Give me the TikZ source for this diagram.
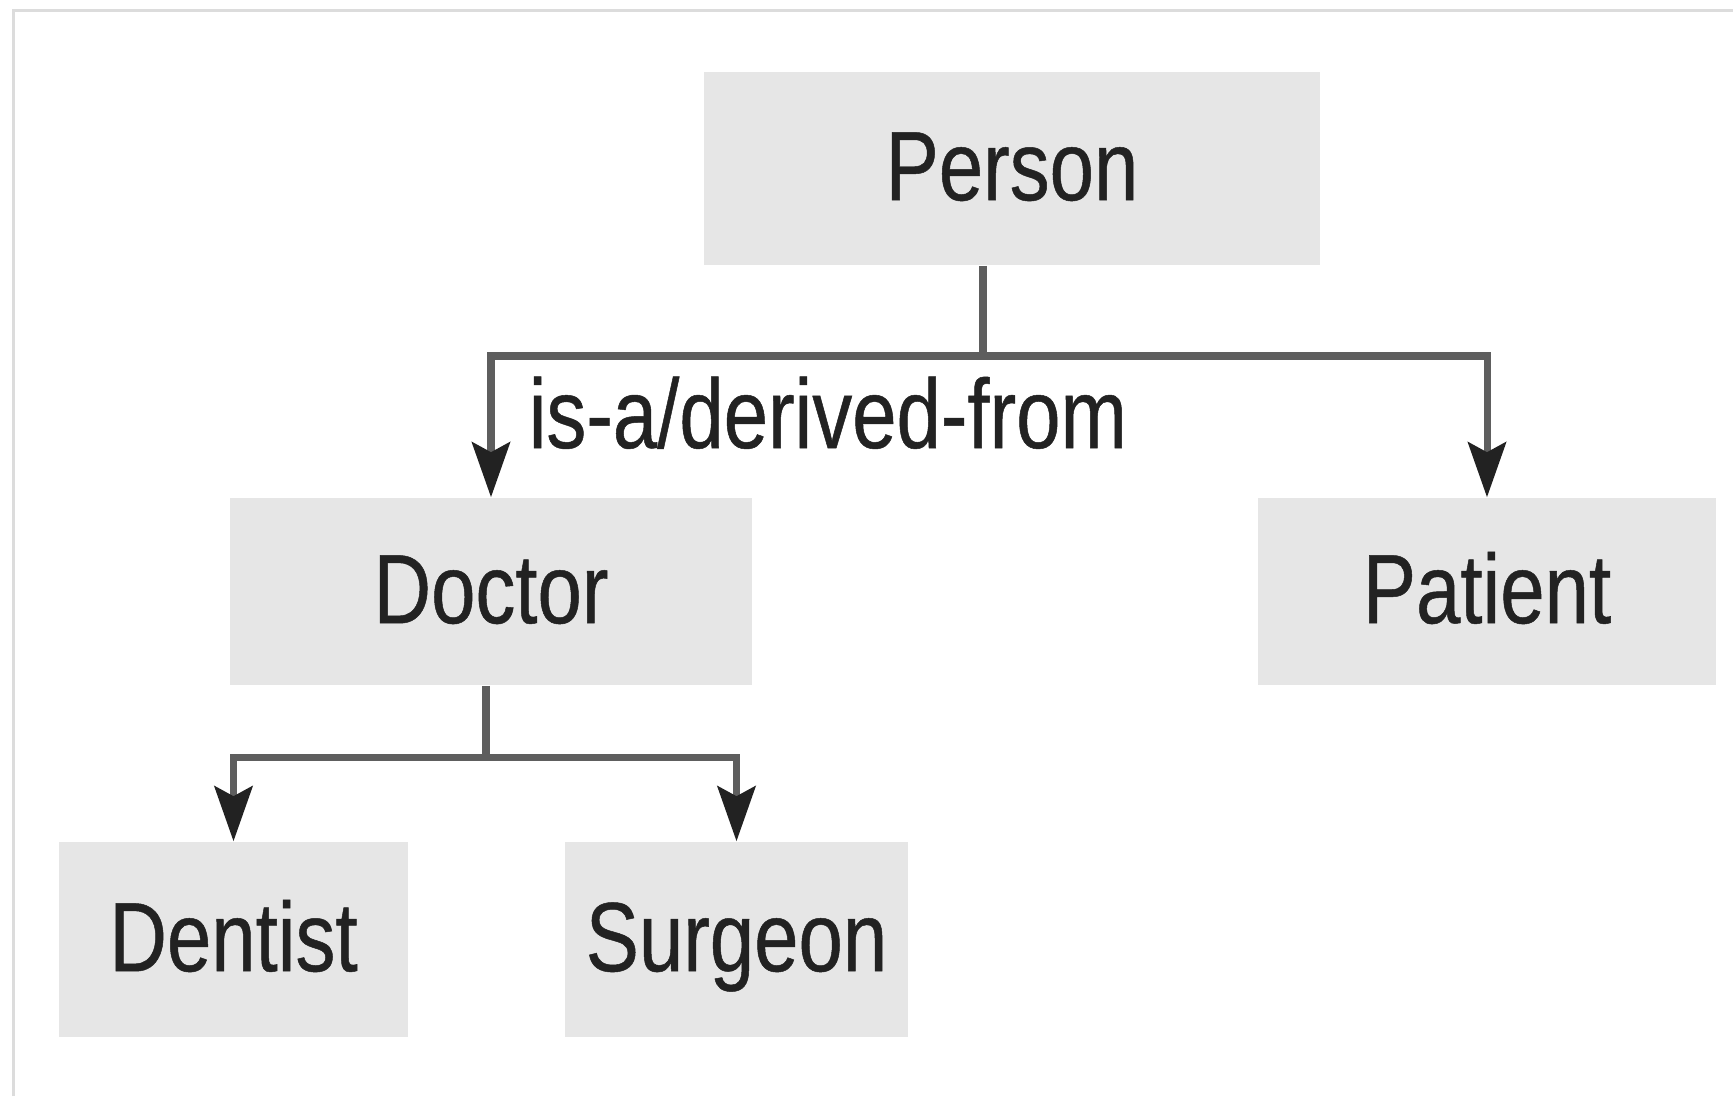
\documentclass[tikz,border=0pt]{standalone}
\usepackage{fontspec}
\setmainfont{Liberation Sans}[FakeStretch=0.81,FakeBold=0.5]
\usepackage{xcolor}
\usetikzlibrary{arrows.meta}

\definecolor{boxgray}{HTML}{E6E6E6}
\definecolor{linegray}{HTML}{5E5E5E}
\definecolor{framegray}{HTML}{DCDCDC}
\definecolor{inkblack}{HTML}{222222}

\begin{document}
\begin{tikzpicture}[
  x=0.01cm, y=-0.01cm,
  box/.style={
    fill=boxgray,
    inner sep=0pt,
    text=inkblack,
    font=\fontsize{28}{34}\selectfont,
    text height=21pt,
    text depth=3pt
  },
  link/.style={draw=linegray,line width=2pt},
  arrow/.style={link,-{Stealth[length=5.5mm,width=3.8mm,inset=1mm,color=inkblack]}}
]
  \fill[white] (0,0) rectangle (1733,1096);
  \useasboundingbox (0,0) rectangle (1733,1096);
  \draw[framegray,line width=0.03cm] (13.5,1096) -- (13.5,10.5) -- (1733,10.5);

  \node[box,minimum width=6.16cm,minimum height=1.93cm] (person) at (1012,168.5) {Person};
  \node[box,minimum width=5.22cm,minimum height=1.87cm] (doctor) at (491,591.5) {Doctor};
  \node[box,minimum width=4.58cm,minimum height=1.87cm] (patient) at (1487,591.5) {Patient};
  \node[box,minimum width=3.49cm,minimum height=1.95cm] (dentist) at (233.5,939.5) {Dentist};
  \node[box,minimum width=3.43cm,minimum height=1.95cm] (surgeon) at (736.5,939.5) {Surgeon};

  \coordinate (personfork) at (983,356);
  \coordinate (doctorfork) at (486,757);

  \draw[link] (personfork |- person.south) -- (personfork);
  \draw[arrow] (personfork) -| (doctor.north);
  \draw[arrow] (personfork) -| (patient.north);
  \node[anchor=base west,inner sep=0pt,text=inkblack,font=\fontsize{28}{34}\selectfont] (isa) at (528,448) {is-a/derived-from};

  \draw[link] (doctorfork |- doctor.south) -- (doctorfork);
  \draw[arrow] (doctorfork) -| (dentist.north);
  \draw[arrow] (doctorfork) -| (surgeon.north);
\end{tikzpicture}
\end{document}
